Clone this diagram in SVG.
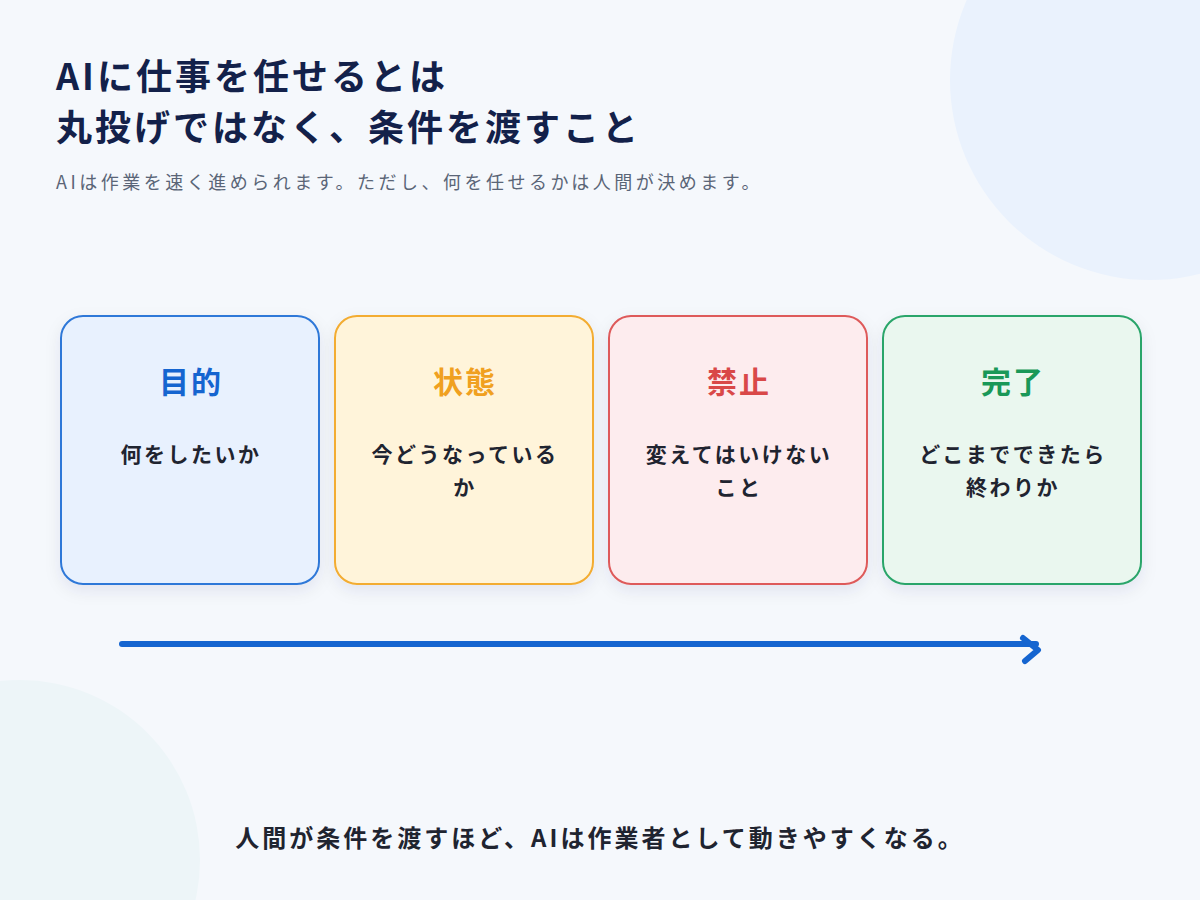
<svg xmlns="http://www.w3.org/2000/svg" width="1200" height="900" viewBox="0 0 1200 900">
<defs>
<style>
text{font-family:"Noto Sans CJK JP","Noto Sans",sans-serif}
.h{font-size:30px;font-weight:700;text-anchor:middle;letter-spacing:2px}
.b{font-size:21px;font-weight:700;fill:#1f2430;text-anchor:middle;letter-spacing:2.5px}
.card{stroke-width:2;filter:url(#sh)}
</style>
<filter id="sh" x="-20%" y="-20%" width="140%" height="140%"><feDropShadow dx="0" dy="6" stdDeviation="8" flood-color="#1a2a50" flood-opacity="0.08"/></filter>
</defs>
<rect width="1200" height="900" fill="#f5f8fc"/>
<circle cx="1150" cy="80" r="200" fill="#eaf2fd"/>
<circle cx="20" cy="860" r="180" fill="#edf5f8"/>
<g id="title">
<text x="56" y="90" font-size="36" font-weight="700" fill="#13214a" letter-spacing="3">AIに仕事を任せるとは</text>
<text x="56" y="141" font-size="36" font-weight="700" fill="#13214a" letter-spacing="3">丸投げではなく、条件を渡すこと</text>
<text x="56" y="189" font-size="18" fill="#5a6577" letter-spacing="3.5">AIは作業を速く進められます。ただし、何を任せるかは人間が決めます。</text>
</g>
<g id="n1"><rect class="card" x="61" y="316" width="258" height="268" rx="22" fill="#e8f1fe" stroke="#2f78d8"/>
<text class="h" x="191" y="393" fill="#1565d0">目的</text><text class="b" x="191" y="462">何をしたいか</text></g>
<g id="n2"><rect class="card" x="335" y="316" width="258" height="268" rx="22" fill="#fff4da" stroke="#f3ac30"/>
<text class="h" x="465" y="393" fill="#f0a020">状態</text><text class="b" x="465" y="462">今どうなっている</text><text class="b" x="465" y="495">か</text></g>
<g id="n3"><rect class="card" x="609" y="316" width="258" height="268" rx="22" fill="#fdecee" stroke="#de5a5a"/>
<text class="h" x="739" y="393" fill="#d94848">禁止</text><text class="b" x="739" y="462">変えてはいけない</text><text class="b" x="739" y="495">こと</text></g>
<g id="n4"><rect class="card" x="883" y="316" width="258" height="268" rx="22" fill="#eaf7ef" stroke="#2aa56a"/>
<text class="h" x="1013" y="393" fill="#1a9858">完了</text><text class="b" x="1013" y="462">どこまでできたら</text><text class="b" x="1013" y="495">終わりか</text></g>
<g id="connectors" fill="none" stroke="#1565d0" stroke-width="6" stroke-linecap="round" stroke-linejoin="round">
<line x1="122" y1="644" x2="1036" y2="644"/>
<polyline points="1023,638 1038,650 1025,661"/>
</g>
<text x="600" y="847" font-size="24" font-weight="700" fill="#1f2430" text-anchor="middle" letter-spacing="3">人間が条件を渡すほど、AIは作業者として動きやすくなる。</text>
</svg>
